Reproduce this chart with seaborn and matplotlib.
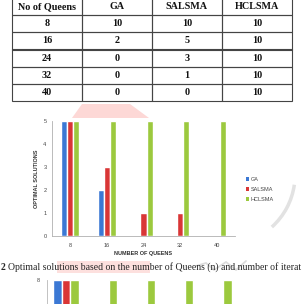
import numpy as np
import pandas as pd
import matplotlib
matplotlib.use("Agg")
import matplotlib.pyplot as plt
import seaborn as sns
from matplotlib.patches import Polygon, Arc, Patch

# data
queens = [8, 16, 24, 32, 40]
methods = ["GA", "SALSMA", "HCLSMA"]
ga = [10, 2, 0, 0, 0]
salsma = [10, 5, 3, 1, 0]
hclsma = [10, 10, 10, 10, 10]

# chart (y axis capped at 5)
chart_ga = [5, 2, 0, 0, 0]
chart_salsma = [5, 3, 1, 1, 0]
chart_hclsma = [5, 5, 5, 5, 5]

# second chart, only its top is on the page
iter_ga = [8, 0, 0, 0, 0]
iter_salsma = [8, 0, 0, 0, 0]
iter_hclsma = [8, 8, 8, 8, 8]

colors = ["#3b78d4", "#d93636", "#9cc93e"]
caption_num = "2"
caption = "Optimal solutions based on the number of Queens (n) and number of iterat"

sns.set_theme(style="white")
plt.rcParams["font.family"] = ["Liberation Sans", "DejaVu Sans"]

W, H = 305, 304
fig = plt.figure(figsize=(W / 100, H / 100), dpi=100)
fig.patch.set_facecolor("white")


def box(x0, y0, x1, y1):
    # pixel box (top-left origin) -> figure rect
    return [x0 / W, 1 - y1 / H, (x1 - x0) / W, (y1 - y0) / H]


# background watermark bits
bg = fig.add_axes([0, 0, 1, 1], zorder=0)
bg.set_xlim(0, W)
bg.set_ylim(H, 0)
bg.axis("off")
bg.add_patch(Polygon([(82, 104), (130, 104), (149, 118), (72, 118)],
                     closed=True, color="#fdd8d6", lw=0))
bg.add_patch(Polygon([(57, 261), (150, 261), (150, 273), (57, 273)],
                     closed=True, color="#fde0de", lw=0))
bg.add_patch(Arc((225, 175), 140, 140, theta1=8, theta2=48,
                 color="#e2e2e2", lw=2.5))
bg.plot([196, 206, 214, 226, 236, 246], [266, 263, 270, 262, 270, 261],
        color="#dcdcdc", lw=1.3)

# table
tab_ax = fig.add_axes(box(12, -2, 292, 101), zorder=2)
tab_ax.axis("off")
cells = [[str(q), str(a), str(b), str(c)] for q, a, b, c in zip(queens, ga, salsma, hclsma)]
tbl = tab_ax.table(cellText=cells, colLabels=["No of Queens"] + methods,
                   cellLoc="center", bbox=[0, 0, 1, 1])
tbl.auto_set_font_size(False)
for (r, c), cell in tbl.get_celld().items():
    cell.set_edgecolor("#444444")
    cell.set_linewidth(0.8)
    cell.set_facecolor("none")
    cell.get_text().set_fontfamily("Liberation Serif")
    cell.get_text().set_fontweight("bold")
    cell.get_text().set_fontsize(7.3)
    cell.get_text().set_color("#111111")

# main bar chart
df = pd.DataFrame({
    "queens": np.repeat(queens, 3),
    "method": methods * len(queens),
    "value": np.ravel(np.column_stack([chart_ga, chart_salsma, chart_hclsma])),
})
ax = fig.add_axes(box(52, 121, 235, 236), zorder=3)
ax.set_facecolor("none")
sns.barplot(data=df, x="queens", y="value", hue="method", hue_order=methods,
            palette=colors, width=0.5, saturation=1, ax=ax, legend=False)
ax.set_ylim(0, 5)
ax.set_xlim(-0.5, 4.5)
ax.set_yticks(range(6))
ax.tick_params(axis="both", labelsize=4, colors="#444444", length=2, width=0.5, pad=2)
ax.tick_params(axis="x", length=0, pad=5)
for s in ["top", "right"]:
    ax.spines[s].set_visible(False)
for s in ["left", "bottom"]:
    ax.spines[s].set_color("#b0b0b0")
    ax.spines[s].set_linewidth(0.6)
ax.set_xlabel("NUMBER OF QUEENS", fontsize=4, fontweight="bold", color="#333333", labelpad=2)
ax.set_ylabel("OPTIMAL SOLUTIONS", fontsize=4, fontweight="bold", color="#333333", labelpad=3)

handles = [Patch(facecolor=c, edgecolor="none") for c in colors]
ax.legend(handles, methods, loc="upper left", bbox_to_anchor=(243 / W, 1 - 174 / H),
          bbox_transform=fig.transFigure, frameon=False, fontsize=4,
          handlelength=0.6, handleheight=0.6, handletextpad=0.3, labelspacing=0.9,
          borderpad=0, labelcolor="#444444")

# caption
fig.text(1 / W, 1 - 267 / H, caption_num, fontsize=7.05, fontweight="bold",
         family="Liberation Serif", va="center", ha="left")
fig.text(8.5 / W, 1 - 267 / H, caption, fontsize=7.05,
         family="Liberation Serif", va="center", ha="left")

# second chart (cut off by the page edge)
df2 = pd.DataFrame({
    "queens": np.repeat(queens, 3),
    "method": methods * len(queens),
    "value": np.ravel(np.column_stack([iter_ga, iter_salsma, iter_hclsma])),
})
ax2 = fig.add_axes(box(47, 280, 238, 400), zorder=3)
ax2.set_facecolor("none")
sns.barplot(data=df2, x="queens", y="value", hue="method", hue_order=methods,
            palette=colors, width=0.67, saturation=1, ax=ax2, legend=False)
ax2.set_ylim(0, 8)
ax2.set_xlim(-0.5, 4.5)
ax2.set_yticks([8])
ax2.set_xticks([])
ax2.tick_params(axis="y", labelsize=4, colors="#444444", length=0, pad=5)
for s in ["top", "right", "bottom"]:
    ax2.spines[s].set_visible(False)
ax2.spines["left"].set_color("#b8b8b8")
ax2.spines["left"].set_linewidth(0.6)
ax2.set_xlabel("")
ax2.set_ylabel("")

fig.savefig("out.png", dpi=100)
